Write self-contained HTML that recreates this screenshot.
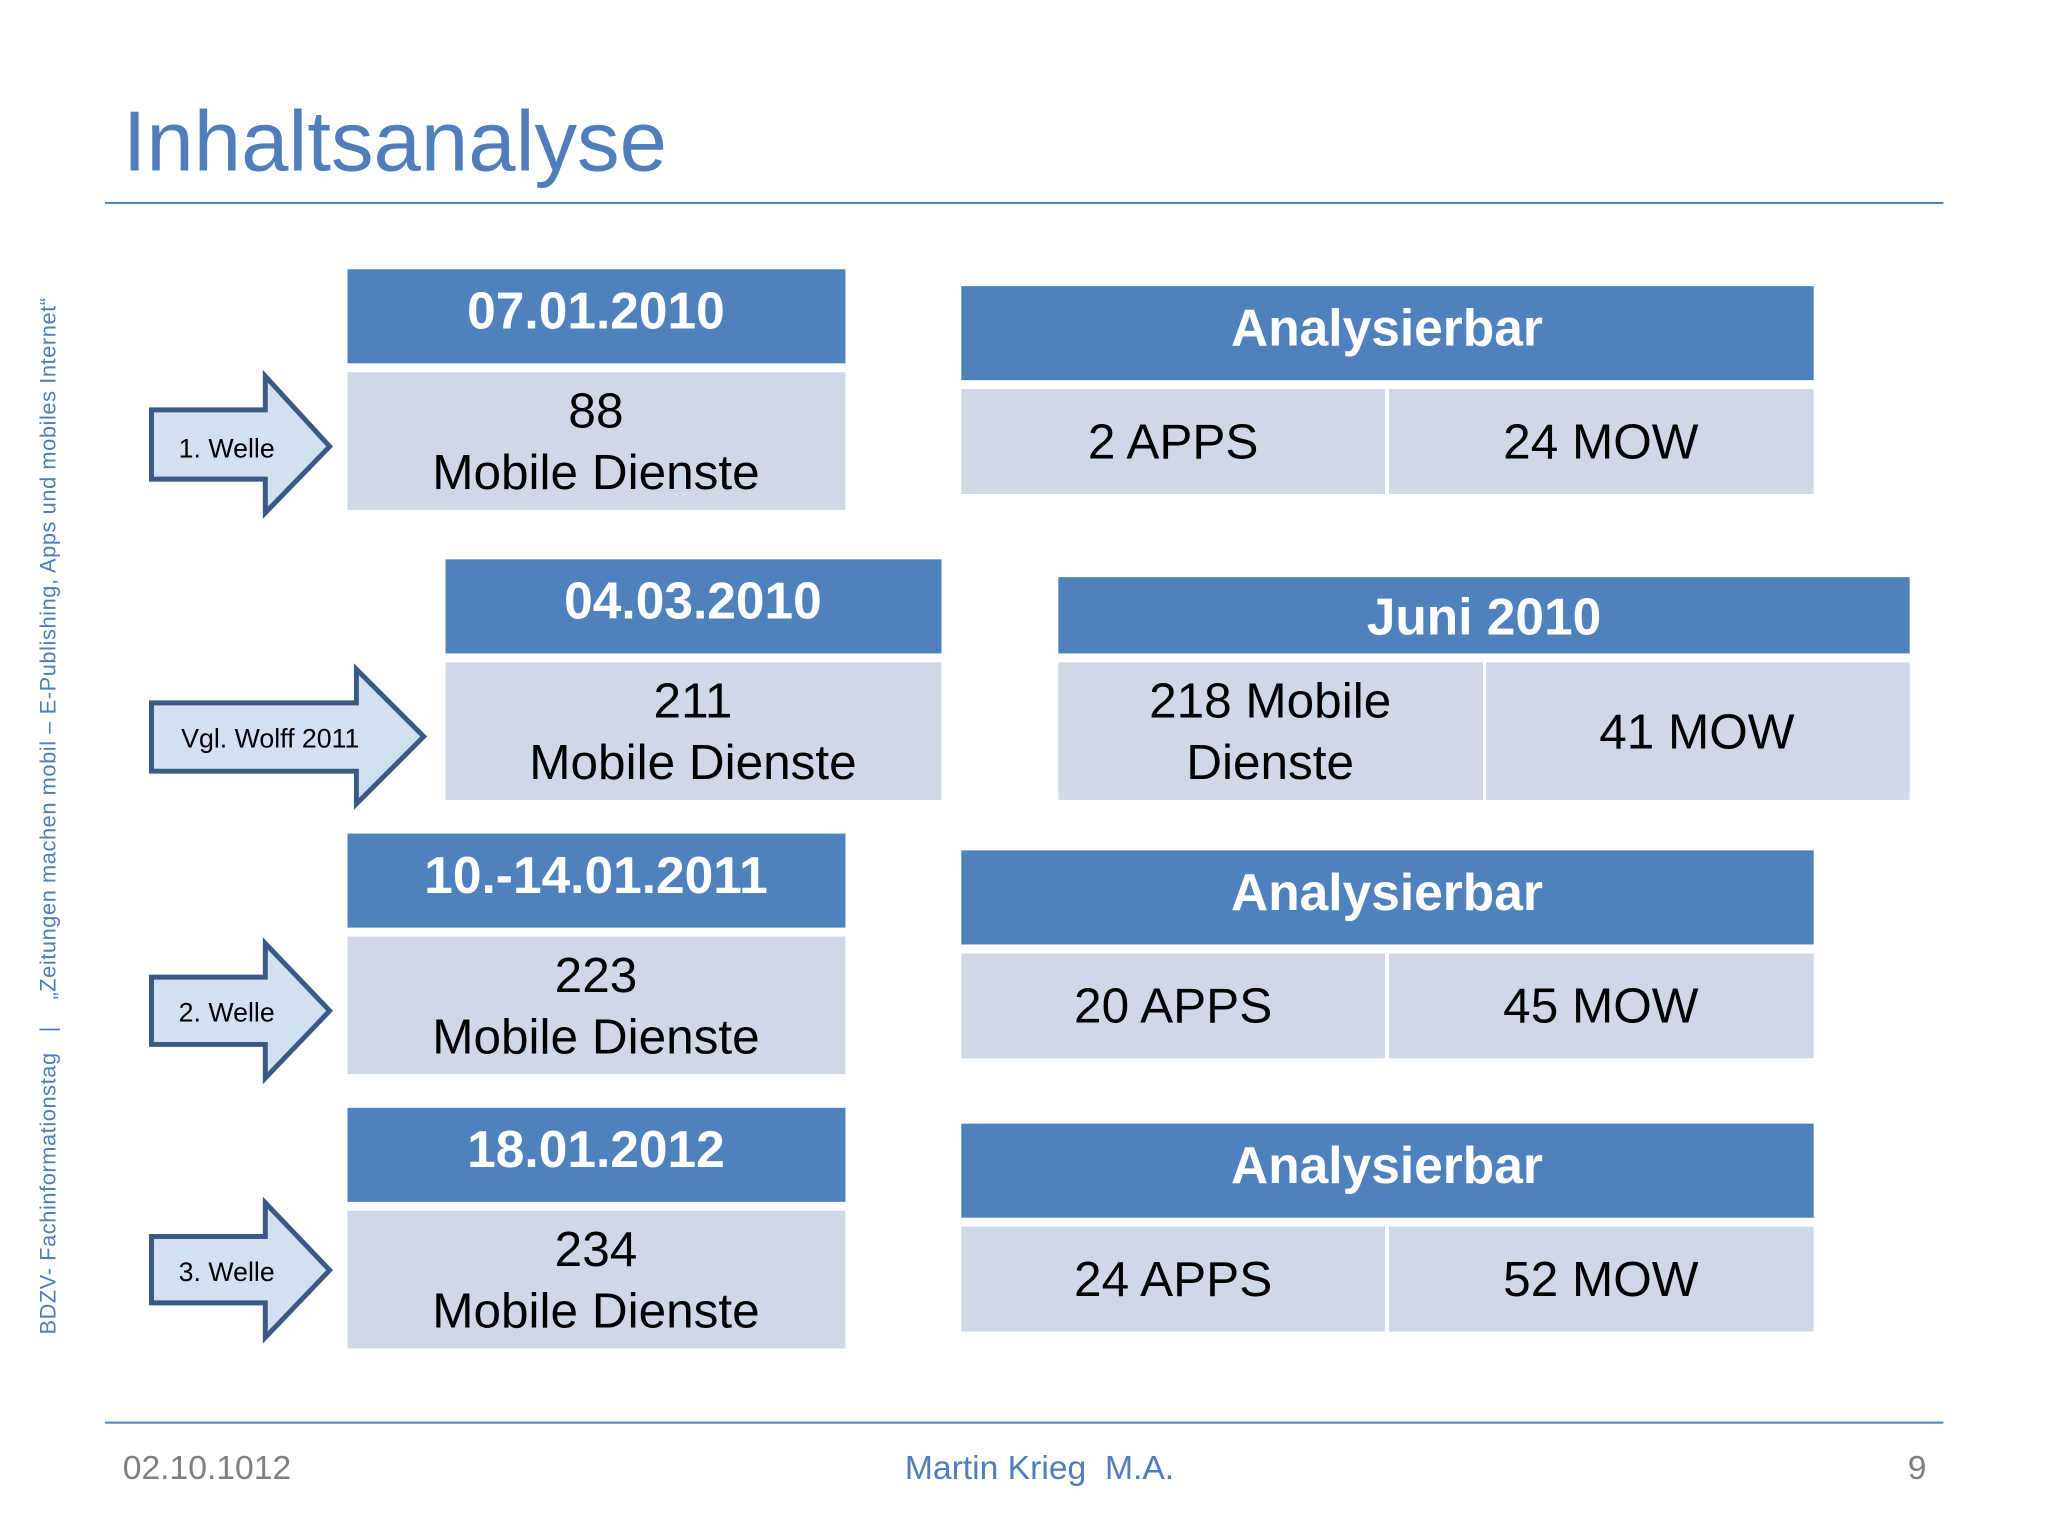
<!DOCTYPE html>
<html><head><meta charset="utf-8"><style>
html,body{margin:0;padding:0;background:#fff}
svg{display:block}
text{font-family:"Liberation Sans",sans-serif}
</style></head><body>
<svg width="2048" height="1536" viewBox="0 0 2048 1536" xmlns="http://www.w3.org/2000/svg">
<rect width="2048" height="1536" fill="#fff"/>
<g transform="scale(0.99)">
<text x="124" y="172" font-size="86" fill="#4f7ebb">Inhaltsanalyse</text>
<rect x="106" y="204" width="1857" height="2" fill="#4f7ebb"/>
<rect x="106" y="1436" width="1857" height="2" fill="#4f7ebb"/>
<text x="124" y="1494" font-size="34" fill="#7f7f7f">02.10.1012</text>
<text x="1050" y="1494" font-size="34" fill="#4f7ebb" text-anchor="middle" xml:space="preserve">Martin Krieg  M.A.</text>
<text x="1946" y="1494" font-size="34" fill="#7f7f7f" text-anchor="end">9</text>
<text transform="translate(56,1348) rotate(-90)" font-size="22" letter-spacing="0.6" fill="#4f7ebb" xml:space="preserve">BDZV- Fachinformationstag   |    „Zeitungen machen mobil – E-Publishing, Apps und mobiles Internet“</text>

<g stroke="#3a5a85" stroke-width="5" fill="#d3e0f2" stroke-linejoin="miter">
<polygon points="153,414 268,414 268,380 333,451 268,518 268,484 153,484"/>
<polygon points="153,710 360,710 360,676 428,744 360,812 360,779 153,779"/>
<polygon points="153,987 268,987 268,953 333,1021 268,1089 268,1055 153,1055"/>
<polygon points="153,1249 268,1249 268,1215 333,1283 268,1351 268,1316 153,1316"/>
</g>
<g font-size="27" fill="#000" text-anchor="middle">
<text x="229" y="462">1. Welle</text>
<text x="273" y="755">Vgl. Wolff 2011</text>
<text x="229" y="1032">2. Welle</text>
<text x="229" y="1294">3. Welle</text>
</g>

<g fill="#4f81bd">
<rect x="351" y="272" width="503" height="95"/>
<rect x="450" y="565" width="501" height="95"/>
<rect x="351" y="842" width="503" height="95"/>
<rect x="351" y="1119" width="503" height="95"/>
<rect x="971" y="289" width="861" height="95"/>
<rect x="1069" y="583" width="860" height="77"/>
<rect x="971" y="859" width="861" height="95"/>
<rect x="971" y="1135" width="861" height="95"/>
</g>
<g fill="#d0d8e8">
<rect x="351" y="376" width="503" height="139"/>
<rect x="450" y="669" width="501" height="139"/>
<rect x="351" y="946" width="503" height="139"/>
<rect x="351" y="1223" width="503" height="139"/>
<rect x="971" y="393" width="428" height="106"/><rect x="1403" y="393" width="429" height="106"/>
<rect x="1069" y="669" width="429" height="139"/><rect x="1501" y="669" width="428" height="139"/>
<rect x="971" y="963" width="428" height="106"/><rect x="1403" y="963" width="429" height="106"/>
<rect x="971" y="1239" width="428" height="106"/><rect x="1403" y="1239" width="429" height="106"/>
</g>
<g font-size="52" font-weight="bold" fill="#fff" text-anchor="middle">
<text x="602" y="332">07.01.2010</text>
<text x="700" y="625">04.03.2010</text>
<text x="602" y="902">10.-14.01.2011</text>
<text x="602" y="1179">18.01.2012</text>
<text x="1401" y="349">Analysierbar</text>
<text x="1499" y="641">Juni 2010</text>
<text x="1401" y="919">Analysierbar</text>
<text x="1401" y="1195">Analysierbar</text>
</g>
<g font-size="50" fill="#000" text-anchor="middle">
<text x="602" y="432">88</text><text x="602" y="494">Mobile Dienste</text>
<text x="700" y="725">211</text><text x="700" y="787">Mobile Dienste</text>
<text x="602" y="1002">223</text><text x="602" y="1064">Mobile Dienste</text>
<text x="602" y="1279">234</text><text x="602" y="1341">Mobile Dienste</text>
<text x="1185" y="463">2 APPS</text><text x="1617" y="463">24 MOW</text>
<text x="1283" y="725">218 Mobile</text><text x="1283" y="787">Dienste</text><text x="1714" y="756">41 MOW</text>
<text x="1185" y="1033">20 APPS</text><text x="1617" y="1033">45 MOW</text>
<text x="1185" y="1309">24 APPS</text><text x="1617" y="1309">52 MOW</text>
</g>
</g>
</svg>
</body></html>
